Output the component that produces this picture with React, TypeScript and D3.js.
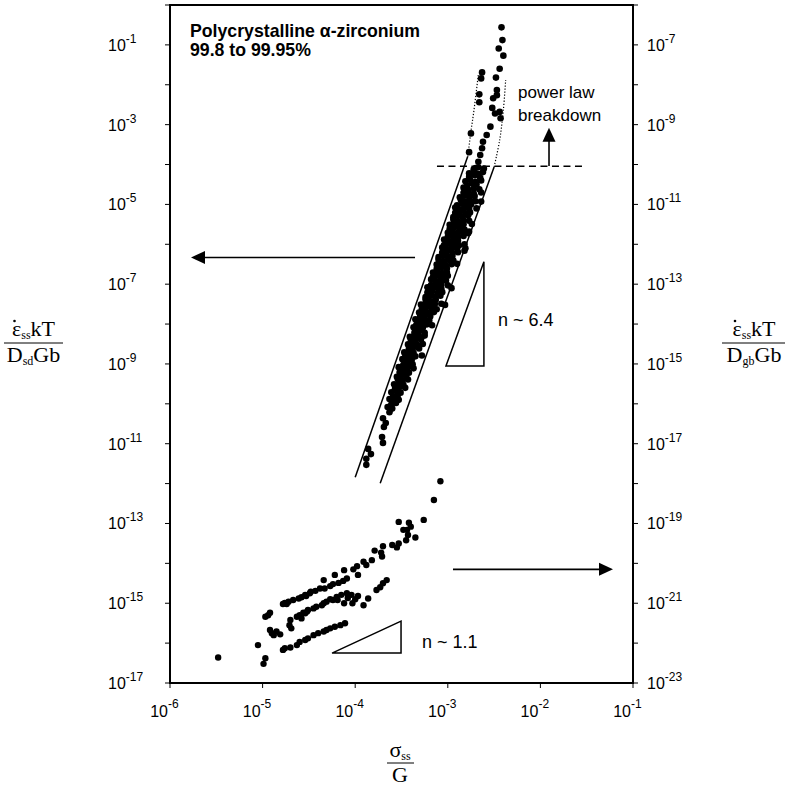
import React from 'react';
import * as d3 from 'd3';

// ---- axis definitions (log10 exponents) ----
const xTickExps = [-6, -5, -4, -3, -2, -1];
const yLeftTickExps = [0, -1, -2, -3, -4, -5, -6, -7, -8, -9, -10, -11, -12, -13, -14, -15, -16, -17];
const yLeftLabelExps = [-1, -3, -5, -7, -9, -11, -13, -15, -17];
const yRightTickExps = [-6, -7, -8, -9, -10, -11, -12, -13, -14, -15, -16, -17, -18, -19, -20, -21, -22, -23];
const yRightLabelExps = [-7, -9, -11, -13, -15, -17, -19, -21, -23];

// ---- data: [log10(sigma/G), log10(rate)] ----
// lattice-diffusion normalised (left axis)
const latticeData: [number, number][] = [
  [-2.42, -0.56], [-2.41, -0.88], [-2.45, -1.09], [-2.40, -1.27], [-2.44, -1.60], [-2.63, -1.69],
  [-2.64, -1.84], [-2.48, -1.82], [-2.66, -2.24], [-2.47, -2.13], [-2.47, -2.26], [-2.66, -2.44],
  [-2.51, -2.34], [-2.52, -2.58], [-2.49, -2.72], [-2.44, -2.68], [-2.43, -2.84], [-2.54, -3.05],
  [-2.75, -3.22], [-2.58, -3.26], [-2.62, -3.43], [-2.63, -3.59], [-2.77, -3.69], [-2.65, -3.76],
  [-2.67, -3.93], [-2.70, -4.09],
  [-2.72, -4.12], [-2.67, -4.07], [-2.61, -4.10],
  [-2.77, -4.22], [-2.72, -4.18], [-2.67, -4.24], [-2.62, -4.19],
  [-2.77, -4.31], [-2.71, -4.27], [-2.65, -4.33],
  [-2.81, -4.42], [-2.76, -4.38], [-2.70, -4.43], [-2.64, -4.40],
  [-2.79, -4.52], [-2.74, -4.47], [-2.69, -4.50],
  [-2.83, -4.58], [-2.78, -4.63], [-2.72, -4.60], [-2.66, -4.62],
  [-2.83, -4.71], [-2.78, -4.68], [-2.72, -4.73], [-2.64, -4.70],
  [-2.87, -4.82], [-2.82, -4.78], [-2.77, -4.81], [-2.71, -4.79],
  [-2.86, -4.88], [-2.81, -4.93], [-2.76, -4.90], [-2.70, -4.92],
  [-2.90, -5.02], [-2.85, -4.98], [-2.80, -5.03], [-2.75, -5.00],
  [-2.92, -5.08], [-2.87, -5.12], [-2.82, -5.09], [-2.77, -5.11], [-2.69, -5.10],
  [-2.92, -5.21], [-2.87, -5.18], [-2.81, -5.23], [-2.76, -5.20],
  [-2.94, -5.32], [-2.89, -5.28], [-2.84, -5.31], [-2.78, -5.27],
  [-2.94, -5.38], [-2.89, -5.42], [-2.83, -5.39], [-2.77, -5.41],
  [-2.98, -5.51], [-2.93, -5.48], [-2.88, -5.52], [-2.83, -5.50], [-2.74, -5.49],
  [-2.98, -5.62], [-2.93, -5.58], [-2.87, -5.61], [-2.82, -5.63],
  [-3.00, -5.71], [-2.95, -5.68], [-2.90, -5.72], [-2.84, -5.70],
  [-3.00, -5.82], [-2.95, -5.78], [-2.89, -5.81], [-2.83, -5.79],
  [-3.04, -5.88], [-2.99, -5.92], [-2.94, -5.90], [-2.89, -5.91],
  [-3.04, -6.02], [-2.99, -5.98], [-2.93, -6.01], [-2.88, -6.03], [-2.82, -6.00],
  [-3.06, -6.08], [-3.01, -6.12], [-2.96, -6.09], [-2.90, -6.11],
  [-3.06, -6.21], [-3.01, -6.18], [-2.95, -6.22], [-2.89, -6.20],
  [-3.10, -6.32], [-3.05, -6.28], [-3.00, -6.31], [-2.95, -6.29],
  [-3.10, -6.38], [-3.05, -6.42], [-2.99, -6.39], [-2.94, -6.41],
  [-3.12, -6.51], [-3.07, -6.48], [-3.02, -6.52], [-2.96, -6.50], [-2.90, -6.49],
  [-3.12, -6.62], [-3.07, -6.58], [-3.01, -6.61],
  [-3.16, -6.71], [-3.11, -6.68], [-3.06, -6.72], [-3.01, -6.70],
  [-3.16, -6.82], [-3.11, -6.78], [-3.05, -6.81], [-3.00, -6.79],
  [-3.18, -6.88], [-3.13, -6.92], [-3.08, -6.90], [-3.02, -6.91],
  [-3.18, -7.02], [-3.13, -6.98], [-3.07, -7.01], [-3.00, -7.03],
  [-3.22, -7.08], [-3.17, -7.12], [-3.12, -7.09], [-3.07, -7.11],
  [-3.22, -7.21], [-3.17, -7.18], [-3.11, -7.22], [-3.06, -7.20],
  [-3.24, -7.32], [-3.19, -7.28], [-3.14, -7.31], [-3.08, -7.29],
  [-3.24, -7.38], [-3.19, -7.42], [-3.13, -7.39],
  [-3.29, -7.51], [-3.24, -7.48], [-3.19, -7.52], [-3.14, -7.50], [-3.07, -7.49],
  [-3.28, -7.62], [-3.23, -7.58], [-3.17, -7.61], [-3.12, -7.63],
  [-3.31, -7.71], [-3.26, -7.68], [-3.21, -7.72], [-3.15, -7.70],
  [-3.30, -7.82], [-3.25, -7.78], [-3.19, -7.81],
  [-3.35, -7.88], [-3.30, -7.92], [-3.25, -7.90], [-3.20, -7.91],
  [-3.34, -8.02], [-3.29, -7.98], [-3.23, -8.01], [-3.17, -8.03],
  [-3.37, -8.08], [-3.32, -8.12], [-3.27, -8.09],
  [-3.36, -8.21], [-3.31, -8.18], [-3.25, -8.22],
  [-3.41, -8.32], [-3.36, -8.28], [-3.31, -8.31], [-3.25, -8.29],
  [-3.40, -8.38], [-3.35, -8.42], [-3.29, -8.39],
  [-3.43, -8.51], [-3.38, -8.48], [-3.33, -8.52], [-3.27, -8.50],
  [-3.42, -8.62], [-3.37, -8.58], [-3.31, -8.61],
  [-3.47, -8.71], [-3.42, -8.68], [-3.37, -8.72],
  [-3.46, -8.82], [-3.41, -8.78], [-3.35, -8.81], [-3.28, -8.79],
  [-3.49, -8.88], [-3.44, -8.92], [-3.39, -8.90],
  [-3.48, -9.02], [-3.43, -8.98], [-3.38, -9.01],
  [-3.53, -9.08], [-3.48, -9.12], [-3.43, -9.09], [-3.37, -9.11],
  [-3.52, -9.21], [-3.47, -9.18], [-3.42, -9.22],
  [-3.55, -9.32], [-3.50, -9.28], [-3.45, -9.31],
  [-3.54, -9.38], [-3.49, -9.42], [-3.43, -9.39],
  [-3.58, -9.51], [-3.53, -9.48], [-3.48, -9.52],
  [-3.57, -9.62], [-3.52, -9.58], [-3.46, -9.60],
  [-3.61, -9.71], [-3.56, -9.68], [-3.51, -9.72],
  [-3.59, -9.82], [-3.54, -9.78],
  [-3.63, -9.88], [-3.58, -9.92], [-3.53, -9.90],
  [-3.61, -10.02], [-3.56, -9.98],
  [-3.65, -10.08], [-3.60, -10.12],
  [-3.63, -10.21],
  [-3.70, -10.36], [-3.67, -10.48], [-3.69, -10.58], [-3.71, -10.83], [-3.70, -10.98],
  [-3.86, -11.13], [-3.83, -11.26], [-3.88, -11.38], [-3.88, -11.53],
  [-2.64, -4.93], [-2.77, -5.68], [-2.81, -6.10], [-2.96, -7.10], [-3.03, -7.52], [-2.82, -6.16], [-2.78, -5.72],
];

// grain-boundary-diffusion normalised (right axis)
const gbData: [number, number][] = [
  [-3.08, -17.94], [-3.15, -18.41], [-3.26, -18.91], [-3.53, -18.96], [-3.42, -18.98], [-3.40, -19.08],
  [-3.44, -19.16], [-3.43, -19.29], [-3.35, -19.35], [-3.45, -19.42], [-3.53, -19.50], [-3.55, -19.60],
  [-3.70, -19.57], [-3.79, -19.68], [-3.72, -19.73], [-3.71, -19.83], [-3.82, -19.92], [-3.88, -20.04],
  [-3.91, -19.96], [-3.98, -20.07], [-4.02, -20.15], [-3.97, -20.29], [-4.12, -20.17], [-4.22, -20.29],
  [-4.09, -20.38], [-4.13, -20.44], [-4.18, -20.49], [-4.24, -20.52], [-4.27, -20.57], [-4.33, -20.63],
  [-4.38, -20.63], [-4.43, -20.69], [-4.48, -20.71], [-4.54, -20.79], [-4.34, -20.42], [-4.61, -20.88],
  [-4.67, -20.92], [-4.74, -21.02], [-4.78, -21.02], [-3.66, -20.42], [-3.70, -20.50], [-3.73, -20.60],
  [-3.77, -20.67], [-3.86, -20.88], [-3.91, -21.05], [-4.00, -20.90], [-4.04, -20.79], [-4.09, -20.75],
  [-4.15, -20.79], [-4.20, -20.84], [-4.24, -20.92], [-4.27, -20.90], [-4.31, -20.96], [-4.34, -21.00],
  [-4.36, -21.05], [-4.42, -21.09], [-4.45, -21.13], [-4.51, -21.17], [-4.54, -21.25], [-4.58, -21.38],
  [-4.63, -21.34], [-4.70, -21.42], [-4.71, -21.55], [-4.94, -21.30], [-4.97, -21.34], [-4.85, -21.71],
  [-4.90, -21.75], [-4.92, -21.67], [-5.05, -22.05], [-4.11, -21.50], [-4.16, -21.55], [-4.22, -21.59],
  [-4.27, -21.63], [-4.31, -21.67], [-4.34, -21.71], [-4.40, -21.75], [-4.45, -21.80], [-4.51, -21.88],
  [-4.54, -21.92], [-4.60, -21.97], [-4.63, -22.05], [-4.70, -22.11], [-4.76, -22.13], [-4.78, -22.17],
  [-4.97, -22.38], [-4.99, -22.52], [-5.48, -22.36], [-4.81, -21.78], [-4.88, -21.80], [-4.60, -21.30],
  [-4.56, -21.24], [-4.52, -21.21], [-4.76, -20.99], [-4.72, -20.96], [-4.58, -20.85], [-4.53, -20.82],
  [-4.49, -20.75], [-4.69, -21.63], [-4.92, -21.24],
  [-4.08, -20.87], [-4.03, -21.00], [-3.97, -20.82], [-4.12, -21.00], [-4.19, -20.92], [-3.60, -19.54],
  [-3.48, -19.16],
];

// guide lines (left-axis units)
const bandLeft: [number, number][] = [[-4.0, -11.84], [-2.785, -3.80]];
const bandRight: [number, number][] = [[-3.73, -11.99], [-2.50, -4.06]];
const breakdownLeft: [number, number][] = [[-2.785, -3.80], [-2.753, -3.22], [-2.717, -2.63], [-2.671, -1.76]];
const breakdownRight: [number, number][] = [[-2.50, -4.06], [-2.44, -3.39], [-2.40, -2.63], [-2.375, -1.88]];
const breakdownLevel: [number, number][] = [[-3.117, -4.04], [-1.518, -4.04]];
const upArrow: [number, number][] = [[-1.907, -4.04], [-1.907, -3.08]];
const leftArrow: [number, number][] = [[-3.354, -6.33], [-5.773, -6.33]];
const slope64: [number, number][] = [[-3.02, -9.05], [-2.61, -6.44], [-2.61, -9.05]];
// right-axis units
const rightArrow: [number, number][] = [[-2.944, -20.15], [-1.216, -20.15]];
const slope11: [number, number][] = [[-4.25, -22.25], [-3.505, -21.45], [-3.505, -22.25]];

const W = 786;
const H = 787;
const X0 = 170, X1 = 633, Y0 = 5, Y1 = 683;
const SANS = "'Liberation Sans', Arial, Helvetica, sans-serif";
const SERIF = "'Liberation Serif', 'Times New Roman', serif";

const p10 = (e: number) => Math.pow(10, e);
const x = d3.scaleLog().domain([1e-6, 1e-1]).range([X0, X1]);
const yL = d3.scaleLog().domain([1, 1e-17]).range([Y0, Y1]);
const yR = d3.scaleLog().domain([1e-6, 1e-23]).range([Y0, Y1]);

const lineL = d3.line<[number, number]>().x(d => x(p10(d[0]))).y(d => yL(p10(d[1])));
const curveL = d3.line<[number, number]>().x(d => x(p10(d[0]))).y(d => yL(p10(d[1]))).curve(d3.curveCatmullRom);
const lineR = d3.line<[number, number]>().x(d => x(p10(d[0]))).y(d => yR(p10(d[1])));

function arrowHead(from: [number, number], to: [number, number], len = 14, half = 6.5) {
  const dx = to[0] - from[0], dy = to[1] - from[1];
  const L = Math.hypot(dx, dy);
  const ux = dx / L, uy = dy / L;
  const bx = to[0] - ux * len, by = to[1] - uy * len;
  return `M${to[0]},${to[1]}L${bx - uy * half},${by + ux * half}L${bx + uy * half},${by - ux * half}Z`;
}

function Arrow({ pts, sy }: { pts: [number, number][]; sy: (v: number) => number }) {
  const a: [number, number] = [x(p10(pts[0][0])), sy(p10(pts[0][1]))];
  const b: [number, number] = [x(p10(pts[1][0])), sy(p10(pts[1][1]))];
  const dx = b[0] - a[0], dy = b[1] - a[1];
  const L = Math.hypot(dx, dy);
  const e: [number, number] = [b[0] - (dx / L) * 12, b[1] - (dy / L) * 12];
  return (
    <g>
      <line x1={a[0]} y1={a[1]} x2={e[0]} y2={e[1]} stroke="#000" strokeWidth={1.6} />
      <path d={arrowHead(a, b)} fill="#000" />
    </g>
  );
}

export default function App() {
  return (
    <svg width={W} height={H} viewBox={`0 0 ${W} ${H}`} style={{ position: 'absolute', left: 0, top: 0, background: '#fff' }}>
      <rect x={0} y={0} width={W} height={H} fill="#fff" />
      {/* frame */}
      <rect x={X0} y={Y0} width={X1 - X0} height={Y1 - Y0} fill="none" stroke="#000" strokeWidth={2} />

      {/* left ticks */}
      {yLeftTickExps.map(e => (
        <line key={'lt' + e} x1={X0 - 5} x2={X0} y1={yL(p10(e))} y2={yL(p10(e))} stroke="#000" strokeWidth={1} />
      ))}
      {yLeftLabelExps.map(e => (
        <text key={'ll' + e} x={108} y={yL(p10(e)) + 6} fontFamily={SANS} fontSize={16} fill="#000">
          10<tspan dy={-8} fontSize={12}>{`${e}`}</tspan>
        </text>
      ))}
      {/* right ticks */}
      {yRightTickExps.map(e => (
        <line key={'rt' + e} x1={X1} x2={X1 + 5} y1={yR(p10(e))} y2={yR(p10(e))} stroke="#000" strokeWidth={1} />
      ))}
      {yRightLabelExps.map(e => (
        <text key={'rl' + e} x={647} y={yR(p10(e)) + 6} fontFamily={SANS} fontSize={16} fill="#000">
          10<tspan dy={-8} fontSize={12}>{`${e}`}</tspan>
        </text>
      ))}
      {/* bottom ticks */}
      {xTickExps.map(e => (
        <g key={'xt' + e}>
          <line x1={x(p10(e))} x2={x(p10(e))} y1={Y1} y2={Y1 + 5} stroke="#000" strokeWidth={1} />
          <text x={x(p10(e)) - 2} y={717} textAnchor="end" fontFamily={SANS} fontSize={16} fill="#000">10</text>
          <text x={x(p10(e)) - 2} y={708} fontFamily={SANS} fontSize={12} fill="#000">{`${e}`}</text>
        </g>
      ))}

      {/* guide lines */}
      <path d={lineL(bandLeft) || ''} fill="none" stroke="#000" strokeWidth={1.5} />
      <path d={lineL(bandRight) || ''} fill="none" stroke="#000" strokeWidth={1.5} />
      <path d={curveL(breakdownLeft) || ''} fill="none" stroke="#000" strokeWidth={1.2} strokeDasharray="1.2,1.8" />
      <path d={curveL(breakdownRight) || ''} fill="none" stroke="#000" strokeWidth={1.2} strokeDasharray="1.2,1.8" />
      <path d={lineL(breakdownLevel) || ''} fill="none" stroke="#000" strokeWidth={1.5} strokeDasharray="7,4.5" />
      <Arrow pts={upArrow} sy={yL} />
      <Arrow pts={leftArrow} sy={yL} />
      <Arrow pts={rightArrow} sy={yR} />
      <path d={(lineL(slope64) || '') + 'Z'} fill="none" stroke="#000" strokeWidth={1.5} />
      <path d={(lineR(slope11) || '') + 'Z'} fill="none" stroke="#000" strokeWidth={1.5} />

      {/* data */}
      {latticeData.map((d, i) => (
        <circle key={'u' + i} cx={x(p10(d[0]))} cy={yL(p10(d[1]))} r={3.3} fill="#000" />
      ))}
      {gbData.map((d, i) => (
        <circle key={'g' + i} cx={x(p10(d[0]))} cy={yR(p10(d[1]))} r={3.2} fill="#000" />
      ))}

      {/* annotations */}
      <text x={190} y={37} fontFamily={SANS} fontSize={17.7} fontWeight="bold" fill="#000">Polycrystalline α-zirconium</text>
      <text x={190} y={56} fontFamily={SANS} fontSize={17.7} fontWeight="bold" fill="#000">99.8 to 99.95%</text>
      <text x={518} y={98} fontFamily={SANS} fontSize={17} fill="#000">power law</text>
      <text x={518} y={121} fontFamily={SANS} fontSize={17} fill="#000">breakdown</text>
      <text x={498} y={326} fontFamily={SANS} fontSize={18} fill="#000">n ~ 6.4</text>
      <text x={422} y={648} fontFamily={SANS} fontSize={18} fill="#000">n ~ 1.1</text>

      {/* left y title */}
      <g fontFamily={SERIF} fill="#000">
        <text x={33.5} y={336} textAnchor="middle" fontSize={22}>
          ε<tspan fontSize={12} dy={3}>ss</tspan><tspan dy={-3}>kT</tspan>
        </text>
        <circle cx={14.5} cy={321} r={1.3} fill="#000" />
        <line x1={4} x2={63} y1={343} y2={343} stroke="#000" strokeWidth={1} />
        <text x={33.5} y={362} textAnchor="middle" fontSize={22}>
          D<tspan fontSize={12} dy={3}>sd</tspan><tspan dy={-3}>Gb</tspan>
        </text>
      </g>
      {/* right y title */}
      <g fontFamily={SERIF} fill="#000">
        <text x={754} y={336} textAnchor="middle" fontSize={22}>
          ε<tspan fontSize={12} dy={3}>ss</tspan><tspan dy={-3}>kT</tspan>
        </text>
        <circle cx={735} cy={321} r={1.3} fill="#000" />
        <line x1={722} x2={785} y1={343} y2={343} stroke="#000" strokeWidth={1} />
        <text x={754} y={362} textAnchor="middle" fontSize={22}>
          D<tspan fontSize={12} dy={3}>gb</tspan><tspan dy={-3}>Gb</tspan>
        </text>
      </g>
      {/* x title */}
      <g fontFamily={SERIF} fill="#000">
        <text x={400} y={757} textAnchor="middle" fontSize={22}>
          σ<tspan fontSize={12} dy={3}>ss</tspan>
        </text>
        <line x1={387} x2={414} y1={763} y2={763} stroke="#000" strokeWidth={1} />
        <text x={400} y={782} textAnchor="middle" fontSize={22}>G</text>
      </g>
    </svg>
  );
}
